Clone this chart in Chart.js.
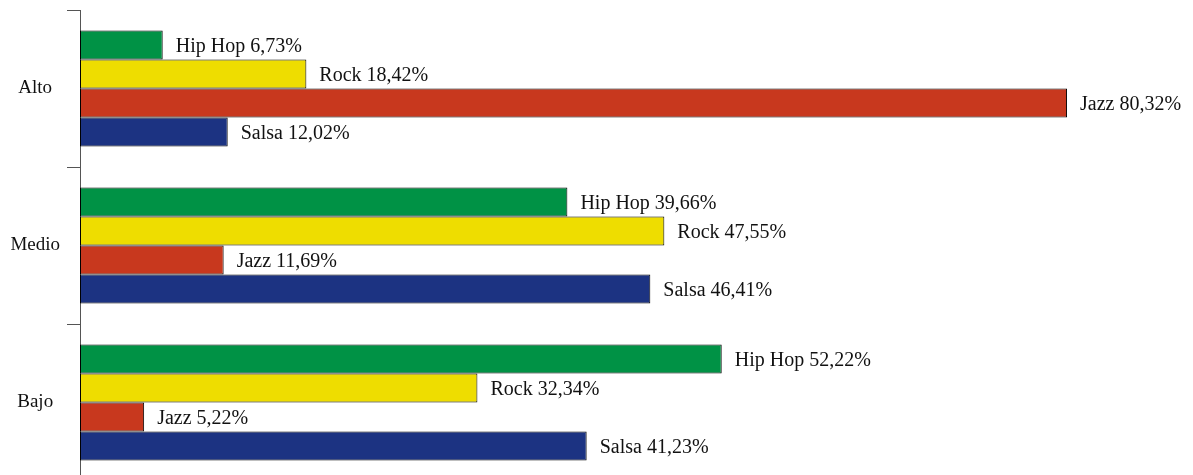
<!DOCTYPE html>
<html>
<head>
<meta charset="utf-8">
<script src="https://cdn.jsdelivr.net/npm/chart.js@4"></script>
<style>
  html, body { margin: 0; padding: 0; background: #fff; overflow: hidden; }
  #wrap { width: 1193px; height: 490px; position: relative; }
</style>
</head>
<body>
<div id="wrap"><canvas id="chart"></canvas></div>
<script>
// data
const categories = ['Alto', 'Medio', 'Bajo'];
const seriesNames = ['Hip Hop', 'Rock', 'Jazz', 'Salsa'];
const hipHop = [6.73, 39.66, 52.22];
const rock = [18.42, 47.55, 32.34];
const jazz = [80.32, 11.69, 5.22];
const salsa = [12.02, 46.41, 41.23];
const seriesColors = ['#009245', '#eedd00', '#c8381e', '#1c3382'];

const FONT = '"Liberation Serif", "Times New Roman", serif';

// labels at the end of each bar: "Name 12,34%"
const barLabels = {
    id: 'barLabels',
    afterDatasetsDraw(chart) {
        const c = chart.ctx;
        c.save();
        c.font = '20px ' + FONT;
        c.fillStyle = '#111';
        c.textAlign = 'left';
        c.textBaseline = 'middle';
        chart.data.datasets.forEach((ds, i) => {
            const meta = chart.getDatasetMeta(i);
            meta.data.forEach((bar, j) => {
                const txt = ds.label + ' ' + ds.data[j].toFixed(2).replace('.', ',') + '%';
                c.fillText(txt, bar.x + 13, bar.y + 2);
            });
        });
        c.restore();
    }
};

const values = [hipHop, rock, jazz, salsa];

new Chart(document.getElementById('chart'), {
    type: 'bar',
    data: {
        labels: categories,
        datasets: seriesNames.map((name, i) => ({
            label: name,
            data: values[i],
            backgroundColor: seriesColors[i],
            borderColor: '#000',
            borderWidth: 1,
            borderSkipped: false,
            categoryPercentage: 0.74,
            barPercentage: 1
        }))
    },
    options: {
        indexAxis: 'y',
        responsive: true,
        maintainAspectRatio: false,
        animation: false,
        layout: { padding: { top: 10, bottom: 9, right: 7, left: 0 } },
        scales: {
            x: {
                display: false,
                min: 0,
                max: 90
            },
            y: {
                afterFit(scale) {
                    scale.width = 80;
                    scale.paddingTop = 0;
                    scale.paddingBottom = 0;
                },
                grid: {
                    offset: true,
                    drawOnChartArea: false,
                    tickLength: 13,
                    color: '#555'
                },
                border: { display: true, color: '#555' },
                ticks: {
                    crossAlign: 'center',
                    padding: 7,
                    color: '#111',
                    font: { family: FONT, size: 19 }
                }
            }
        },
        plugins: {
            legend: { display: false },
            tooltip: { enabled: false }
        }
    },
    plugins: [barLabels]
});
</script>
</body>
</html>
